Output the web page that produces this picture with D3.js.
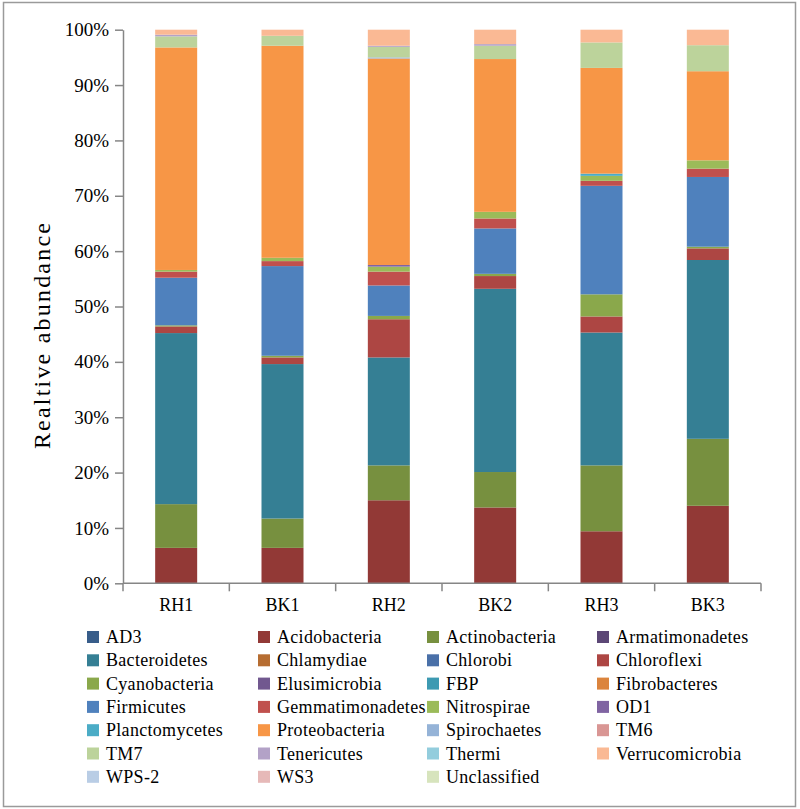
<!DOCTYPE html>
<html>
<head>
<meta charset="utf-8">
<script src="https://cdn.jsdelivr.net/npm/d3@7"></script>
<style>
  html, body { margin: 0; padding: 0; background: #fff; }
  svg { display: block; }
  svg text { font-family: "Liberation Serif", "Times New Roman", "DejaVu Serif", serif !important; fill: #000; }
</style>
</head>
<body>
<svg id="chart" width="800" height="809"></svg>
<script>
// ---- Data (percent relative abundance) ----
const samples = ["RH1", "BK1", "RH2", "BK2", "RH3", "BK3"];
const tickLabels = ["0%", "10%", "20%", "30%", "40%", "50%", "60%", "70%", "80%", "90%", "100%"];

const AD3              = [0, 0, 0, 0, 0, 0];
const Acidobacteria    = [6.4, 6.4, 15.0, 13.7, 9.4, 14.0];
const Actinobacteria   = [7.9, 5.3, 6.3, 6.4, 11.9, 12.1];
const Armatimonadetes  = [0, 0, 0, 0, 0, 0];
const Bacteroidetes    = [30.9, 27.9, 19.5, 33.1, 24.0, 32.3];
const Chlamydiae       = [0, 0, 0, 0, 0, 0];
const Chlorobi         = [0, 0, 0, 0, 0, 0];
const Chloroflexi      = [1.2, 1.2, 6.9, 2.3, 2.9, 2.1];
const Cyanobacteria    = [0.2, 0.3, 0.6, 0.4, 4.0, 0.3];
const Elusimicrobia    = [0, 0, 0, 0, 0, 0];
const FBP              = [0, 0, 0, 0, 0, 0];
const Fibrobacteres    = [0, 0, 0, 0, 0, 0];
const Firmicutes       = [8.6, 16.2, 5.5, 8.2, 19.6, 12.6];
const Gemmatimonadetes = [1.1, 0.9, 2.5, 1.8, 0.9, 1.5];
const Nitrospirae      = [0.3, 0.6, 0.9, 1.2, 0.9, 1.5];
const OD1              = [0, 0, 0.3, 0, 0, 0];
const Planctomycetes   = [0, 0, 0, 0, 0.4, 0];
const Proteobacteria   = [40.2, 38.3, 37.3, 27.6, 19.1, 16.1];
const Spirochaetes     = [0, 0, 0.2, 0, 0, 0];
const TM6              = [0, 0, 0, 0, 0, 0];
const TM7              = [2.0, 1.8, 1.9, 2.4, 4.6, 4.7];
const Tenericutes      = [0.3, 0, 0.2, 0.3, 0, 0];
const Thermi           = [0, 0, 0, 0, 0, 0];
const Verrucomicrobia  = [0.9, 1.1, 2.9, 2.6, 2.3, 2.8];
const WPS2             = [0, 0, 0, 0, 0, 0];
const WS3              = [0, 0, 0, 0, 0, 0];
const Unclassified     = [0, 0, 0, 0, 0, 0];

const taxa = ["AD3", "Acidobacteria", "Actinobacteria", "Armatimonadetes", "Bacteroidetes",
  "Chlamydiae", "Chlorobi", "Chloroflexi", "Cyanobacteria", "Elusimicrobia", "FBP",
  "Fibrobacteres", "Firmicutes", "Gemmatimonadetes", "Nitrospirae", "OD1", "Planctomycetes",
  "Proteobacteria", "Spirochaetes", "TM6", "TM7", "Tenericutes", "Thermi", "Verrucomicrobia",
  "WPS-2", "WS3", "Unclassified"];
const series = [AD3, Acidobacteria, Actinobacteria, Armatimonadetes, Bacteroidetes,
  Chlamydiae, Chlorobi, Chloroflexi, Cyanobacteria, Elusimicrobia, FBP,
  Fibrobacteres, Firmicutes, Gemmatimonadetes, Nitrospirae, OD1, Planctomycetes,
  Proteobacteria, Spirochaetes, TM6, TM7, Tenericutes, Thermi, Verrucomicrobia,
  WPS2, WS3, Unclassified];
const colors = ["#385D8A", "#923936", "#77903F", "#5C4776", "#357F94",
  "#B66D31", "#4A70A8", "#AD4643", "#8AA84B", "#71588F", "#3D9AB2",
  "#DB843D", "#4F81BD", "#C0504D", "#9BBB59", "#8064A2", "#4BACC6",
  "#F79646", "#95B3D7", "#D99694", "#BCD39B", "#B3A2C7", "#93CDDD", "#FAB994",
  "#B9CDE5", "#E6B9B8", "#D7E4BD"];

// ---- Build table ----
const table = samples.map((s, i) => {
  const row = { sample: s };
  taxa.forEach((t, j) => { row[t] = series[j][i]; });
  return row;
});

const FONT = "Liberation Serif, Times New Roman, DejaVu Serif, serif";
const svg = d3.select("#chart");

// outer frame
svg.append("rect").attr("x", 3.5).attr("y", 2.5).attr("width", 792).attr("height", 804)
  .attr("fill", "#fff").attr("stroke", "#9a9a9a").attr("stroke-width", 1.5);

const plot = { left: 123, right: 761, top: 29.7, bottom: 583.3 };

const xb = d3.scaleBand().domain(samples).range([plot.left, plot.right]);
const y = d3.scaleLinear().domain([0, 100]).range([plot.bottom, plot.top]);

const stack = d3.stack().keys(taxa);
const layers = stack(table);
const color = d3.scaleOrdinal().domain(taxa).range(colors);

const g = svg.append("g");
g.selectAll("g.layer").data(layers).join("g")
  .attr("class", "layer")
  .attr("fill", d => color(d.key))
  .selectAll("rect").data(d => d.filter(p => p[1] - p[0] > 0)).join("rect")
  .attr("x", d => xb(d.data.sample) + xb.bandwidth() / 2 - 21)
  .attr("width", 42)
  .attr("y", d => y(d[1]))
  .attr("height", d => y(d[0]) - y(d[1]));

// y axis
const axisColor = "#868686";
const yAxis = d3.axisLeft(y).tickValues(d3.range(0, 101, 10))
  .tickFormat((d, i) => tickLabels[i]).tickSize(8).tickSizeOuter(0).tickPadding(6);
const ya = svg.append("g").attr("transform", `translate(${plot.left},0)`).call(yAxis)
  .attr("font-family", FONT);
ya.select(".domain").attr("stroke", axisColor).attr("stroke-width", 1.5);
ya.selectAll(".tick line").attr("stroke", axisColor).attr("stroke-width", 1.5);
ya.selectAll(".tick text").attr("font-family", FONT).attr("font-size", 19).attr("fill", "#000");

// x axis (ticks at band boundaries)
const xa = svg.append("g").attr("transform", `translate(0,${plot.bottom})`);
xa.append("line").attr("x1", plot.left).attr("x2", plot.right).attr("y1", 0).attr("y2", 0)
  .attr("stroke", axisColor).attr("stroke-width", 1.5);
const bounds = samples.map(s => xb(s)).concat([plot.right]);
xa.selectAll("line.tk").data(bounds).join("line").attr("class", "tk")
  .attr("x1", d => d).attr("x2", d => d).attr("y1", 0).attr("y2", 8)
  .attr("stroke", axisColor).attr("stroke-width", 1.5);
xa.selectAll("text").data(samples).join("text")
  .attr("x", d => xb(d) + xb.bandwidth() / 2)
  .attr("y", 28)
  .attr("text-anchor", "middle")
  .attr("font-family", FONT)
  .attr("font-size", 18)
  .text(d => d);

// y title
svg.append("text")
  .attr("transform", "translate(50,335) rotate(-90)")
  .attr("text-anchor", "middle")
  .attr("font-family", FONT)
  .attr("font-size", 24)
  .attr("letter-spacing", 2.2)
  .text("Realtive abundance");

// legend
const legCols = [87, 258, 427, 597];
const legRow0 = 637, legRowH = 23.3;
const leg = svg.append("g");
taxa.forEach((t, i) => {
  const c = i % 4, r = Math.floor(i / 4);
  const lx = legCols[c], ly = legRow0 + r * legRowH;
  leg.append("rect").attr("x", lx).attr("y", ly - 6).attr("width", 12).attr("height", 12).attr("fill", color(t));
  leg.append("text").attr("x", lx + 19).attr("y", ly + 6).attr("font-family", FONT)
    .attr("font-size", 18).attr("letter-spacing", 0.3).text(t);
});
</script>
</body>
</html>
